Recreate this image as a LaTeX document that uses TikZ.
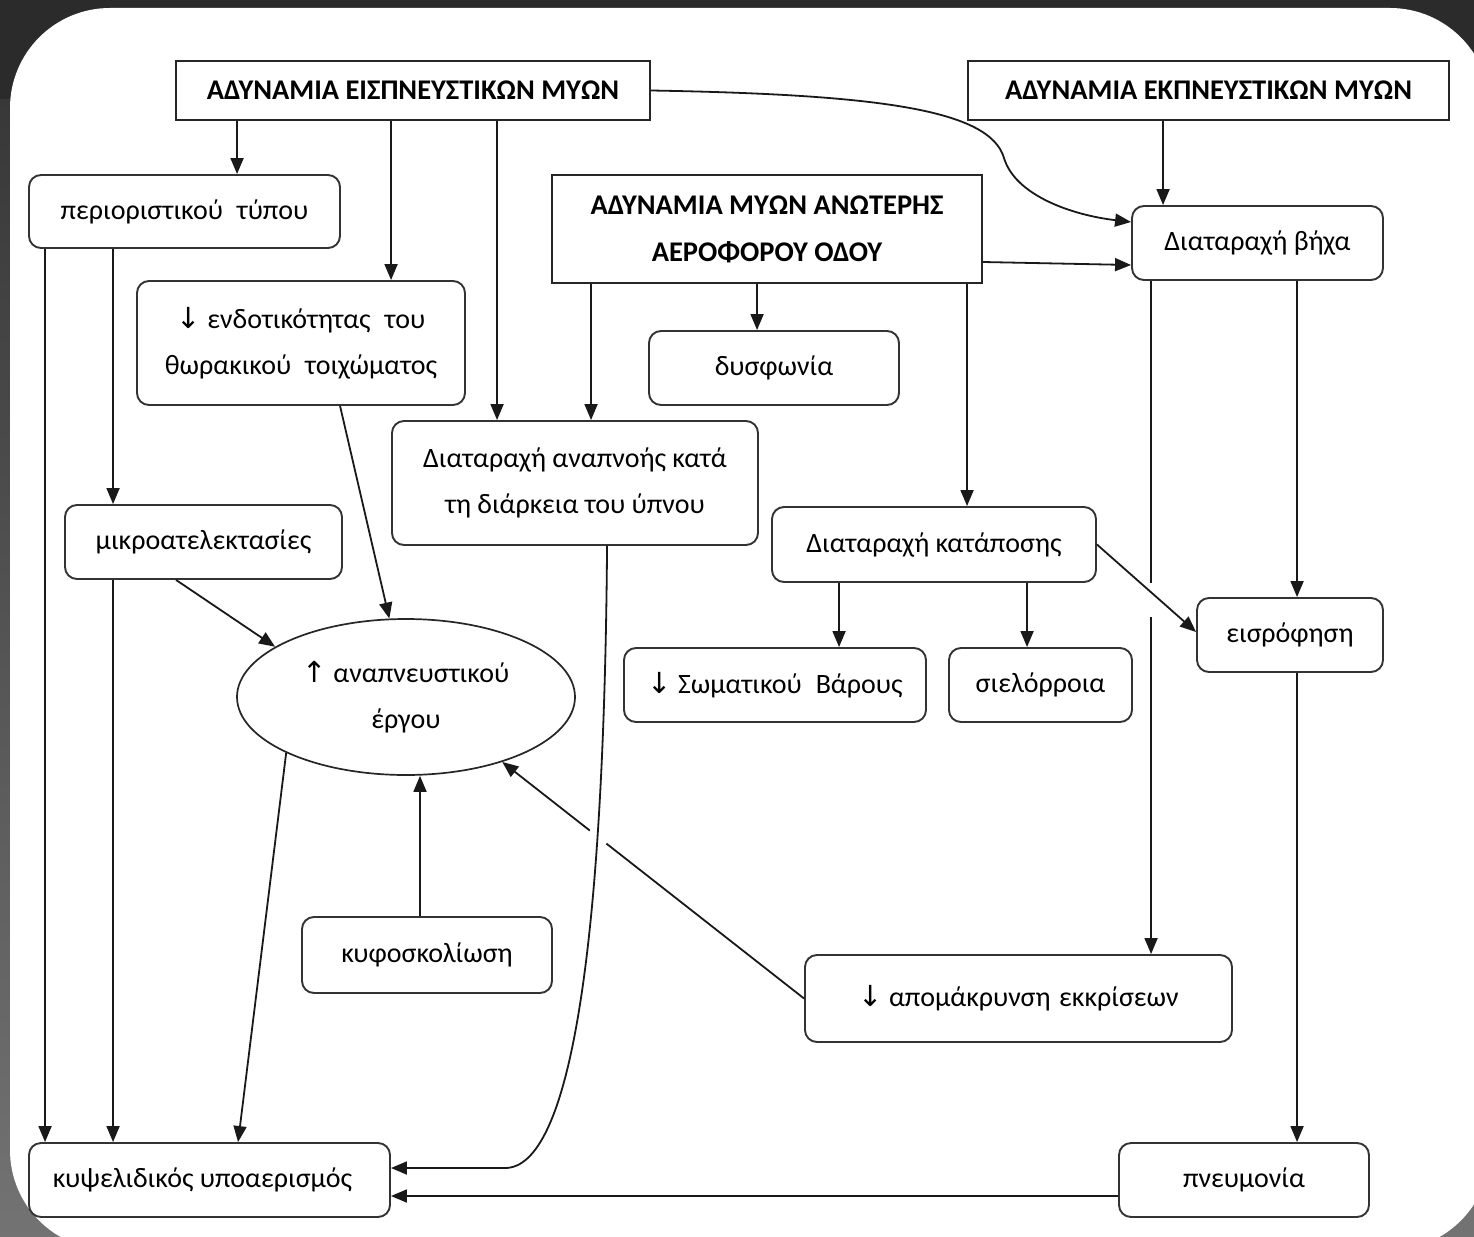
\documentclass[tikz,border=0pt]{standalone}
\usepackage{fontspec}
\setmainfont{Carlito}
\newfontfamily\arrowfont{DejaVu Sans}
\usetikzlibrary{arrows.meta,shapes.geometric,calc}
\newcommand{\dnarr}{{\arrowfont\fontsize{29}{29}\selectfont ↓}}
\newcommand{\uparr}{{\arrowfont\fontsize{29}{29}\selectfont ↑}}
\begin{document}
\begin{tikzpicture}[x=1pt,y=-1pt,
  txt/.style={font=\fontsize{28}{46}\selectfont, text=black, align=center, inner sep=0pt},
  hdr/.style={rectangle, draw=black!85, line width=1.9pt, text=black, align=center, inner sep=0pt, font=\fontsize{28.5}{47}\selectfont\bfseries},
  rbox/.style={txt, rectangle, draw=black!80, line width=1.9pt, rounded corners=12pt},
  conn/.style={draw=black!90, line width=1.8pt},
  arr/.style={conn, -{Triangle[length=16pt,width=13pt]}},
]
\useasboundingbox (0,0) rectangle (1474,1236);
% background
\fill[black!83] (0,0) rectangle (1474,1236);
\shade[top color=black!78, bottom color=black!55] (0,100) rectangle (1474,1236);
\fill[white, rounded corners=100pt] (10,8) rectangle (1490,1250);

% nodes
\node[hdr, minimum width=474pt, minimum height=59pt] (ins) at (413,90.5) {ΑΔΥΝΑΜΙΑ ΕΙΣΠΝΕΥΣΤΙΚΩΝ ΜΥΩΝ};
\node[hdr, minimum width=481pt, minimum height=59pt] (exp) at (1208.5,90.5) {ΑΔΥΝΑΜΙΑ ΕΚΠΝΕΥΣΤΙΚΩΝ ΜΥΩΝ};
\node[hdr, minimum width=430pt, minimum height=108pt] (upper) at (767,229) {ΑΔΥΝΑΜΙΑ ΜΥΩΝ ΑΝΩΤΕΡΗΣ\\ΑΕΡΟΦΟΡΟΥ ΟΔΟΥ};
\node[rbox, minimum width=311pt, minimum height=73pt] (restr) at (184.5,211.5) {περιοριστικού\hspace{0.5em}τύπου};
\node[rbox, minimum width=328pt, minimum height=124pt] (compl) at (301,343) {\dnarr\ ενδοτικότητας\hspace{0.5em}του\\θωρακικού\hspace{0.5em}τοιχώματος};
\node[rbox, minimum width=366pt, minimum height=124pt] (sleep) at (575,483) {Διαταραχή αναπνοής κατά\\τη διάρκεια του ύπνου};
\node[rbox, minimum width=250pt, minimum height=74pt] (dysph) at (774,368) {δυσφωνία};
\node[rbox, minimum width=251pt, minimum height=74pt] (cough) at (1257.5,243) {Διαταραχή βήχα};
\node[rbox, minimum width=324pt, minimum height=75pt] (swal) at (934,544.5) {Διαταραχή κατάποσης};
\node[rbox, minimum width=277pt, minimum height=74pt] (micro) at (203.5,542) {μικροατελεκτασίες};
\node[txt, ellipse, draw=black!85, line width=1.7pt, minimum width=338pt, minimum height=156pt] (work) at (406,697) {\uparr\ αναπνευστικού\\έργου};
\node[rbox, minimum width=302pt, minimum height=74pt] (weight) at (775,685) {\dnarr\ Σωματικού\hspace{0.5em}Βάρους};
\node[rbox, minimum width=183pt, minimum height=74pt] (sial) at (1040.5,685) {σιελόρροια};
\node[rbox, minimum width=186pt, minimum height=74pt] (asp) at (1290,635) {εισρόφηση};
\node[rbox, minimum width=250pt, minimum height=76pt] (kypho) at (427,955) {κυφοσκολίωση};
\node[rbox, minimum width=427pt, minimum height=87pt] (secr) at (1018.5,998.5) {\dnarr\ απομάκρυνση\hspace{0.3em}εκκρίσεων};
\node[rbox, minimum width=361pt, minimum height=74pt] (hypo) at (209.5,1180) {κυψελιδικός υποαερισμός\hspace{14pt}};
\node[rbox, minimum width=250pt, minimum height=74pt] (pneu) at (1244,1180) {πνευμονία};

\coordinate (insbend) at (1004,158);
\coordinate (sleepcorner) at (505,1168);

% connectors
\draw[arr] ([xshift=62pt]ins.south west) coordinate (a1) -- (a1 |- restr.north);
\draw[arr] ([xshift=216pt]ins.south west) coordinate (a2) -- (a2 |- compl.north);
\draw[arr] ([xshift=322pt]ins.south west) coordinate (a3) -- (a3 |- sleep.north);
\draw[arr] (ins.east) .. controls +(230,4) and +(-14,-48) .. (insbend)
  .. controls +(11,37) and +(-60,-7) .. ([yshift=21pt]cough.west);
\draw[arr] ([xshift=196pt]exp.south west) coordinate (b1) -- (b1 |- cough.north);
\draw[arr] ([yshift=-33pt]upper.east) -- ([yshift=-22pt]cough.west);
\draw[arr] ([xshift=206pt]upper.south west) coordinate (u1) -- (u1 |- dysph.north);
\draw[arr] ([xshift=40pt]upper.south west) coordinate (u2) -- (u2 |- sleep.north);
\draw[arr] ([xshift=416pt]upper.south west) coordinate (u3) -- (u3 |- swal.north);
\draw[arr] ([xshift=17pt]restr.south west) coordinate (r1) -- (r1 |- hypo.north);
\draw[arr] ([xshift=85pt]restr.south west) coordinate (r2) -- (r2 |- micro.north);
\draw[arr] ([xshift=204pt]compl.south west) -- (work.102);
\draw[arr] ([xshift=112pt]micro.south west) -- (work.159);
\draw[arr] ([xshift=49pt]micro.south west) coordinate (m1) -- (m1 |- hypo.north);
\draw[arr] (work.205) -- ([xshift=210pt]hypo.north west);
\draw[arr] ([xshift=-7pt]kypho.north) coordinate (k1) -- (k1 |- work.south);
\draw[conn] (secr.west) -- ($(secr.west)!0.655!(work.326)$);
\draw[arr] ($(secr.west)!0.71!(work.326)$) -- (work.326);
\draw[arr] ([xshift=216pt]sleep.south west) .. controls +(-3,405) and +(65,0) .. (sleepcorner) -- ([yshift=12pt]hypo.east);
\draw[arr] ([yshift=-16pt]pneu.west) -- ([yshift=-16pt]hypo.east);
\draw[arr] ([xshift=166pt]cough.south west) coordinate (c1) -- (c1 |- asp.north);
\draw[conn] ([xshift=20pt]cough.south west) coordinate (c2) -- (c2 |- swal.south);
\draw[arr] ($(c2 |- asp.north)+(0,20)$) -- (c2 |- secr.north);
\draw[arr] ([xshift=68pt]swal.south west) coordinate (s1) -- (s1 |- weight.north);
\draw[arr] ([xshift=256pt]swal.south west) coordinate (s2) -- (s2 |- sial.north);
\draw[arr] (swal.east) -- ([yshift=3pt]asp.west);
\draw[arr] ([xshift=101pt]asp.south west) coordinate (p1) -- (p1 |- pneu.north);
\end{tikzpicture}
\end{document}
